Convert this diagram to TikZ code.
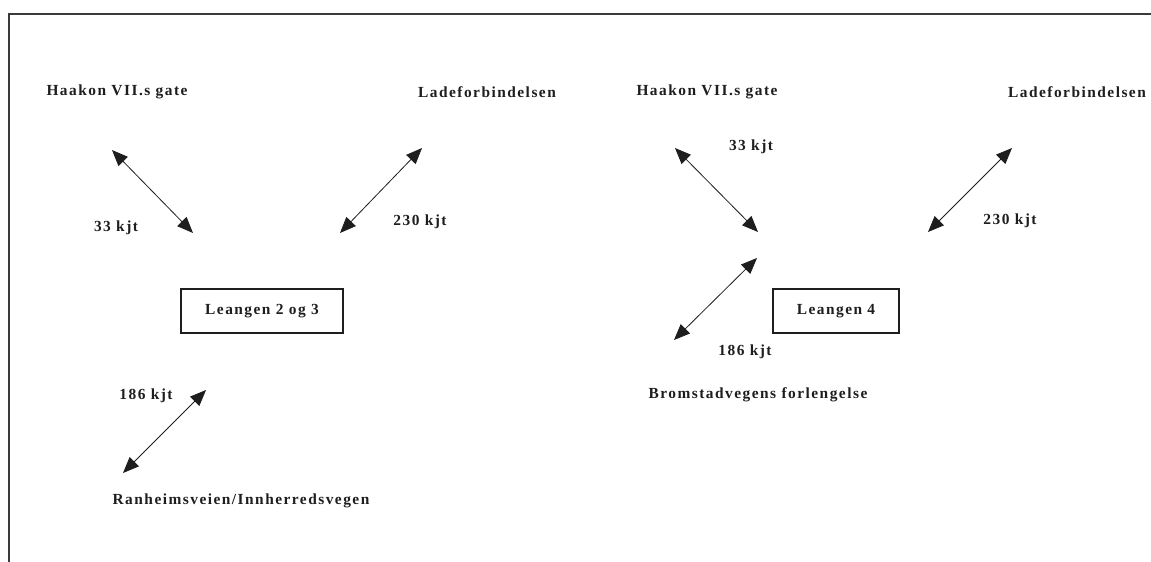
\documentclass[tikz,border=0pt]{standalone}
\usepackage{fontspec}
\setmainfont{Liberation Serif}[LetterSpace=9.6]
\usepackage{tikz}
\usetikzlibrary{arrows.meta,positioning}
\definecolor{Ink}{HTML}{1E1E1E}
\definecolor{Frame}{HTML}{3A3A3A}

\begin{document}
\begin{tikzpicture}[x=1pt, y=-1pt, font=\fontsize{15.4}{17}\selectfont\bfseries, >={Triangle[length=16pt,width=13pt]}]
\tikzset{lbl/.style={text=Ink, inner sep=0pt}, box/.style={draw=Ink, line width=1.2pt, text=Ink, minimum height=44pt, inner sep=0pt}, link/.style={<->, Ink, line width=.8pt}}
\useasboundingbox (0,0) rectangle (1151,562);
\fill[white] (0,0) rectangle (1151,562);
\draw[Frame, line width=1.5pt] (9,562) -- (9,14) -- (1151,14);
% Leangen 2 og 3
\node[lbl] (haakonA) at (117,92) {Haakon VII.s gate};
\node[lbl] (ladeA) at (487,92) {Ladeforbindelsen};
\node[box, minimum width=162pt] (leangenA) at (262,311) {Leangen 2 og 3};
\node[lbl] (ranheim) at (241,501) {Ranheimsveien/Innherredsvegen};
\node[lbl] (kjtA1) at (116,228) {33 kjt};
\node[lbl] (kjtA2) at (420,222) {230 kjt};
\node[lbl] (kjtA3) at (146,396) {186 kjt};
\coordinate (a1) at (112,150); \coordinate (a2) at (193,233);
\coordinate (b1) at (422,148); \coordinate (b2) at (340,233);
\coordinate (c1) at (206,390); \coordinate (c2) at (123,473);
% Leangen 4
\node[lbl] (haakonB) at (707,92) {Haakon VII.s gate};
\node[lbl] (ladeB) at (1077,92) {Ladeforbindelsen};
\node[box, minimum width=126pt] (leangenB) at (836,311) {Leangen 4};
\node[lbl] (bromstad) at (758,395) {Bromstadvegens forlengelse};
\node[lbl] (kjtB1) at (751,147) {33 kjt};
\node[lbl] (kjtB2) at (1010,221) {230 kjt};
\node[lbl] (kjtB3) at (745,352) {186 kjt};
\coordinate (d1) at (675,148); \coordinate (d2) at (758,232);
\coordinate (e1) at (1012,148); \coordinate (e2) at (928,232);
\coordinate (f1) at (757,258); \coordinate (f2) at (674,340);
\foreach \x/\y in {a1/a2,b1/b2,c1/c2,d1/d2,e1/e2,f1/f2} \draw[link] (\x)--(\y);
\end{tikzpicture}
\end{document}
